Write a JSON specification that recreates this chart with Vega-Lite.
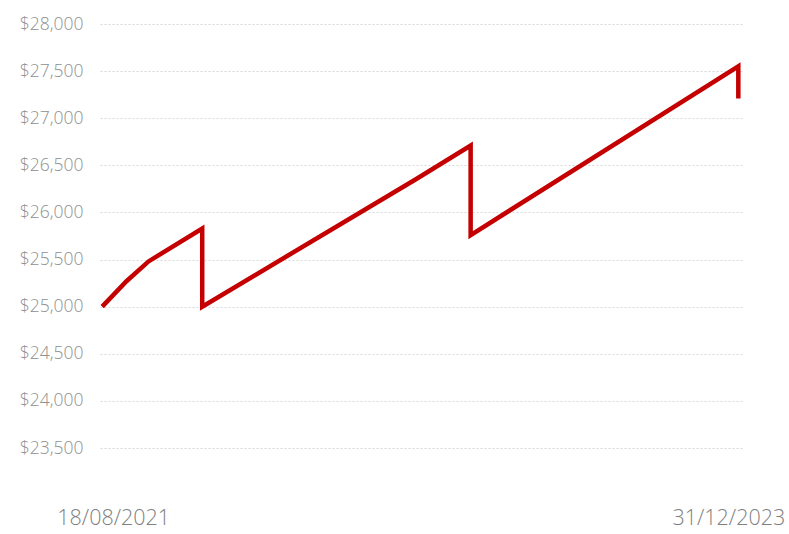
{
  "$schema": "https://vega.github.io/schema/vega-lite/v6.json",
  "autosize": {"type": "none"},
  "width": 642,
  "height": 424,
  "padding": {"left": 100, "top": 24, "right": 47, "bottom": 86},
  "background": "white",
  "data": {
    "values": [
      {"i": 0, "date": "2021-08-18", "value": 25000},
      {"i": 1, "date": "2021-09-20", "value": 25270},
      {"i": 2, "date": "2021-10-20", "value": 25480},
      {"i": 3, "date": "2022-01-01", "value": 25830},
      {"i": 4, "date": "2022-01-01", "value": 25000},
      {"i": 5, "date": "2022-10-18", "value": 26350},
      {"i": 6, "date": "2023-01-01", "value": 26710},
      {"i": 7, "date": "2023-01-01", "value": 25760},
      {"i": 8, "date": "2023-12-31", "value": 27550},
      {"i": 9, "date": "2023-12-31", "value": 27210}
    ]
  },
  "mark": {"type": "line", "color": "#c40000", "strokeWidth": 4.5, "strokeJoin": "miter"},
  "encoding": {
    "x": {
      "field": "date",
      "type": "temporal",
      "scale": {
        "type": "utc",
        "domain": [
          {"year": 2021, "month": 8, "date": 15, "utc": true},
          {"year": 2024, "month": 1, "date": 5, "utc": true}
        ]
      },
      "axis": {
        "title": null,
        "values": [
          {"year": 2021, "month": 8, "date": 18, "utc": true},
          {"year": 2023, "month": 12, "date": 31, "utc": true}
        ],
        "format": "%d/%m/%Y",
        "grid": false,
        "domain": false,
        "ticks": false,
        "labelPadding": 59,
        "labelFontSize": 21.5,
        "labelFontWeight": 300,
        "labelColor": "#808080",
        "labelFont": "Open Sans",
        "labelOffset": {"condition": {"test": "datum.index == 0", "value": 11}, "value": -10}
      }
    },
    "y": {
      "field": "value",
      "type": "quantitative",
      "scale": {"domain": [23500, 28000], "zero": false, "nice": false},
      "axis": {
        "title": null,
        "values": [23500, 24000, 24500, 25000, 25500, 26000, 26500, 27000, 27500, 28000],
        "format": "$,.0f",
        "domain": false,
        "ticks": false,
        "labelPadding": 17,
        "labelFontSize": 17.5,
        "labelFontWeight": 300,
        "labelColor": "#8f8f8f",
        "labelFont": "Open Sans",
        "gridColor": "#d8d8d8",
        "gridDash": [2, 2],
        "gridWidth": 1
      }
    },
    "order": {"field": "i", "type": "quantitative"}
  },
  "config": {"view": {"stroke": null}}
}
